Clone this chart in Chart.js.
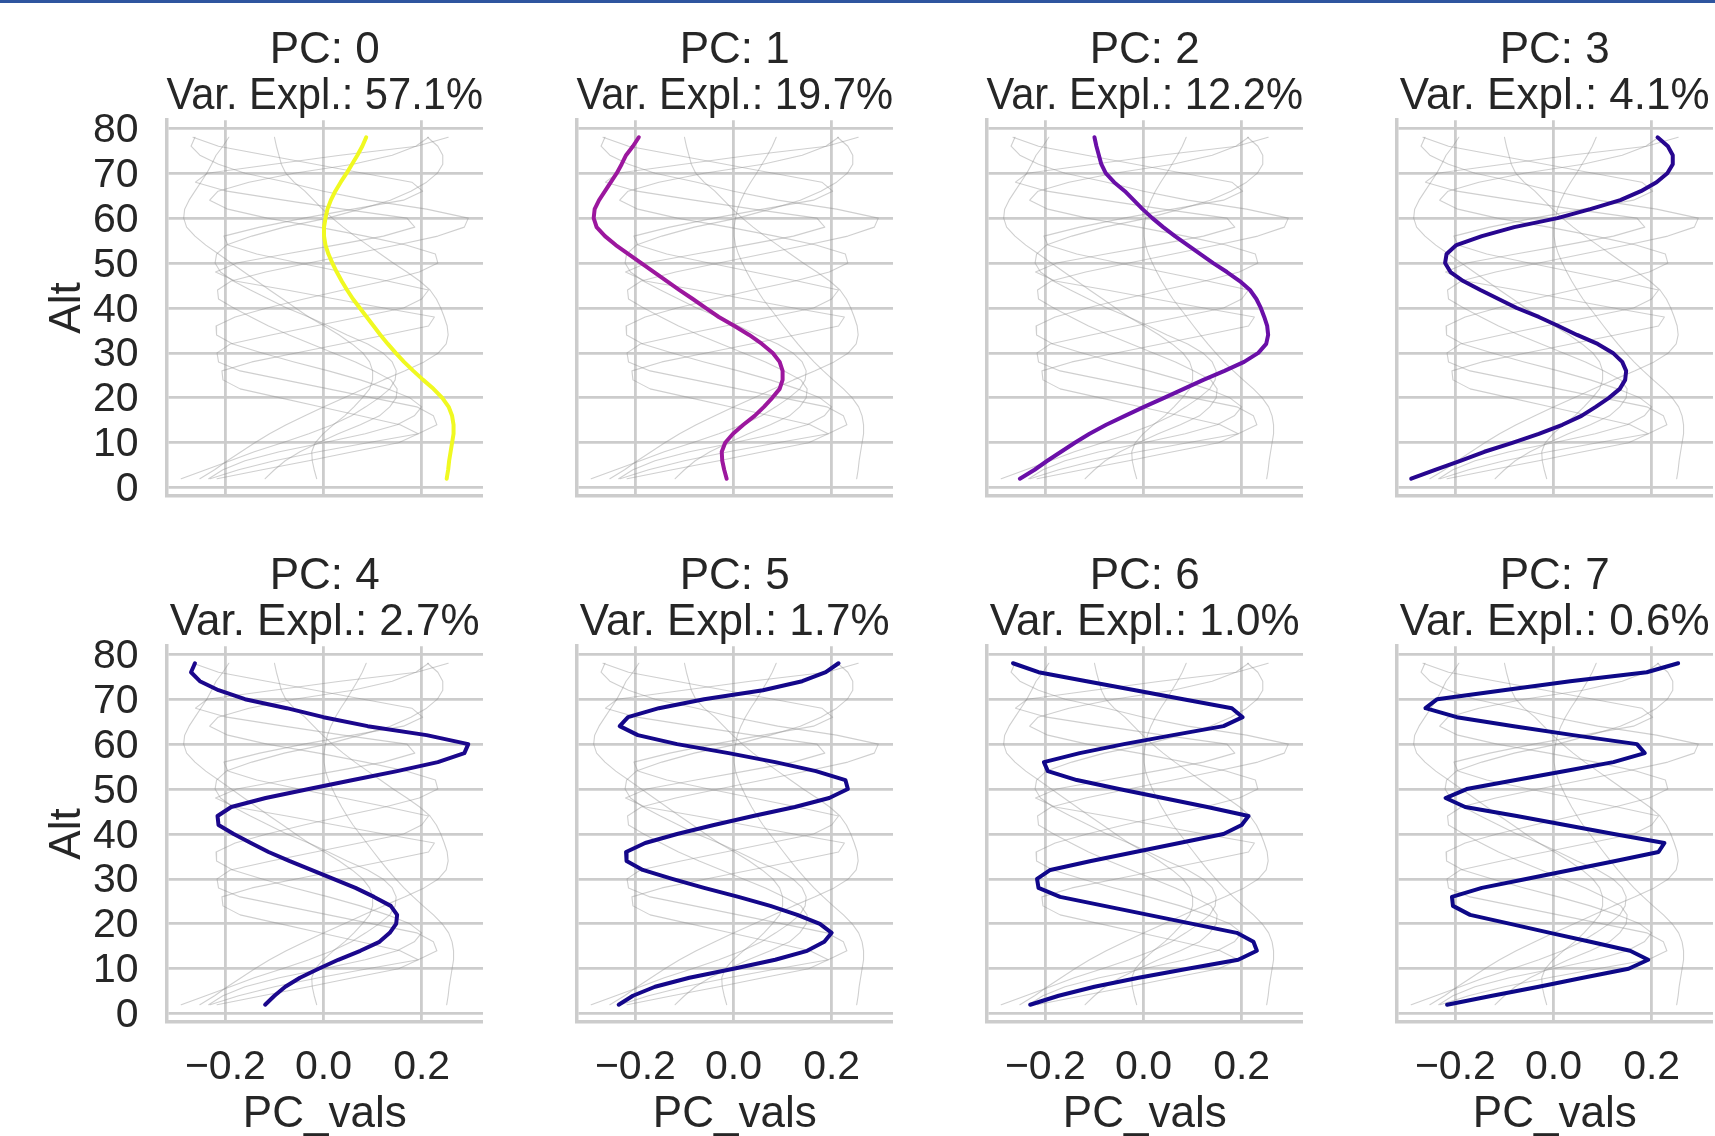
<!DOCTYPE html>
<html>
<head>
<meta charset="utf-8">
<title>PC profiles</title>
<script src="https://cdn.jsdelivr.net/npm/chart.js@4.4.1/dist/chart.umd.min.js"></script>
<style>
  html, body { margin: 0; padding: 0; background: #fff; }
  #frame { position: relative; width: 1715px; height: 1136px; overflow: hidden; background: #fff; }
  #topbar { position: absolute; left: 0; top: 0; width: 1715px; height: 3px; background: #2f559f; z-index: 5; }
  #frame canvas { position: absolute; }
</style>
</head>
<body>
<div id="frame"><div id="topbar"></div></div>
<script>
// altitude levels, top to bottom
const altitudes = [78, 76, 74, 72, 70, 68, 66, 64, 62, 60, 58, 56, 54, 52, 50, 48, 46, 44, 42, 40,
                   38, 36, 34, 32, 30, 28, 26, 24, 22, 20, 18, 16, 14, 12, 10, 8, 6, 4, 2]

const pcLabels = ['PC: 0', 'PC: 1', 'PC: 2', 'PC: 3', 'PC: 4', 'PC: 5', 'PC: 6', 'PC: 7']
const varExplained = ['57.1%', '19.7%', '12.2%', '4.1%', '2.7%', '1.7%', '1.0%', '0.6%']

const pc0 = [0.087, 0.079, 0.069, 0.058, 0.047, 0.035, 0.024, 0.015, 0.008, 0.004,
             0.001, 0.001, 0.004, 0.010, 0.018, 0.027, 0.037, 0.048, 0.060, 0.074,
             0.088, 0.102, 0.116, 0.131, 0.147, 0.164, 0.183, 0.203, 0.224, 0.242,
             0.255, 0.262, 0.265, 0.265, 0.262, 0.259, 0.256, 0.254, 0.251]
const pc1 = [-0.193, -0.205, -0.219, -0.228, -0.238, -0.250, -0.262, -0.274, -0.283, -0.285,
             -0.279, -0.262, -0.240, -0.214, -0.188, -0.162, -0.136, -0.110, -0.083, -0.057,
             -0.030, 0.002, 0.032, 0.058, 0.080, 0.094, 0.100, 0.100, 0.094, 0.079,
             0.062, 0.043, 0.020, -0.001, -0.017, -0.024, -0.023, -0.019, -0.014]
const pc2 = [-0.100, -0.096, -0.091, -0.086, -0.077, -0.060, -0.038, -0.020, -0.002, 0.018,
             0.040, 0.064, 0.090, 0.116, 0.142, 0.170, 0.196, 0.217, 0.230, 0.239,
             0.246, 0.252, 0.254, 0.250, 0.234, 0.205, 0.165, 0.122, 0.082, 0.042,
             0.001, -0.038, -0.076, -0.110, -0.140, -0.168, -0.196, -0.222, -0.252]
const pc3 = [0.212, 0.233, 0.243, 0.243, 0.232, 0.210, 0.178, 0.136, 0.075, 0.008,
             -0.080, -0.146, -0.198, -0.218, -0.221, -0.210, -0.184, -0.149, -0.112, -0.075,
             -0.030, 0.010, 0.048, 0.090, 0.121, 0.140, 0.148, 0.146, 0.135, 0.113,
             0.086, 0.057, 0.018, -0.030, -0.084, -0.141, -0.190, -0.240, -0.290]
const pc4 = [-0.262, -0.270, -0.252, -0.214, -0.160, -0.075, 0.000, 0.090, 0.210, 0.295,
             0.287, 0.233, 0.150, 0.060, -0.030, -0.118, -0.188, -0.216, -0.214, -0.183,
             -0.148, -0.112, -0.070, -0.025, 0.020, 0.065, 0.103, 0.137, 0.150, 0.148,
             0.135, 0.114, 0.075, 0.030, -0.010, -0.048, -0.078, -0.100, -0.119]
const pc5 = [0.214, 0.188, 0.140, 0.060, -0.060, -0.152, -0.215, -0.232, -0.195, -0.115,
             -0.010, 0.085, 0.168, 0.228, 0.233, 0.195, 0.125, 0.040, -0.040, -0.115,
             -0.180, -0.219, -0.218, -0.185, -0.125, -0.060, 0.010, 0.075, 0.130, 0.176,
             0.200, 0.185, 0.150, 0.085, 0.000, -0.090, -0.160, -0.205, -0.234]
const pc6 = [-0.266, -0.214, -0.116, -0.017, 0.081, 0.180, 0.202, 0.163, 0.060, -0.040,
             -0.130, -0.203, -0.195, -0.136, -0.050, 0.040, 0.130, 0.214, 0.200, 0.163,
             0.073, -0.017, -0.107, -0.190, -0.217, -0.214, -0.170, -0.080, 0.010, 0.100,
             0.190, 0.224, 0.231, 0.193, 0.090, -0.010, -0.100, -0.173, -0.231]
const pc7 = [0.254, 0.190, 0.034, -0.102, -0.237, -0.261, -0.197, -0.081, 0.040, 0.170,
             0.186, 0.122, 0.024, -0.077, -0.177, -0.220, -0.180, -0.075, 0.024, 0.123,
             0.226, 0.214, 0.126, 0.035, -0.056, -0.146, -0.207, -0.205, -0.170, -0.088,
             -0.007, 0.075, 0.156, 0.193, 0.153, 0.060, -0.030, -0.125, -0.217]

const pcSeries = [pc0, pc1, pc2, pc3, pc4, pc5, pc6, pc7]
const lineColors = ['#f0f921', '#9c179e', '#6a0fa8', '#27068f', '#1b078c', '#14078a', '#10078a', '#0d0887']

const xTicks = [-0.2, 0, 0.2]
const yTicks = [0, 10, 20, 30, 40, 50, 60, 70, 80]

const textColor = '#262626'
const gridColor = '#cccccc'
const bgLineColor = 'rgba(140, 140, 140, 0.42)'

Chart.defaults.font.family = "'Liberation Sans', Arial, sans-serif"
Chart.defaults.color = textColor

const frame = document.getElementById('frame')

function toPoints(vals) {
  return vals.map(function (v, k) { return { x: v, y: altitudes[k] } })
}

function makePanel(pc) {
  const col = pc % 4
  const row = Math.floor(pc / 4)
  const bottomRow = row === 1
  const firstCol = col === 0

  const canvas = document.createElement('canvas')
  canvas.width = 483
  canvas.height = bottomRow ? 620 : 526
  canvas.style.left = (410 * col) + 'px'
  canvas.style.top = (526 * row) + 'px'
  frame.appendChild(canvas)

  // highlighted profile first so it is drawn on top
  const datasets = [{
    data: toPoints(pcSeries[pc]),
    borderColor: lineColors[pc],
    borderWidth: 4
  }]
  pcSeries.forEach(function (vals) {
    datasets.push({
      data: toPoints(vals),
      borderColor: bgLineColor,
      borderWidth: 1.1
    })
  })

  new Chart(canvas, {
    type: 'line',
    data: { datasets: datasets },
    options: {
      responsive: false,
      animation: false,
      devicePixelRatio: 1,
      layout: { padding: 0, autoPadding: false },
      elements: {
        point: { radius: 0, hoverRadius: 0 },
        line: { tension: 0, fill: false, borderJoinStyle: 'round', borderCapStyle: 'round' }
      },
      plugins: {
        legend: { display: false },
        tooltip: { enabled: false },
        title: {
          display: true,
          fullSize: false,
          text: [pcLabels[pc], 'Var. Expl.: ' + varExplained[pc]],
          color: textColor,
          font: { size: 44, weight: 'normal', lineHeight: 1.052 },
          padding: { top: 27.6, bottom: 0 }
        }
      },
      scales: {
        x: {
          type: 'linear',
          position: 'bottom',
          min: -0.32,
          max: 0.325,
          afterBuildTicks: function (scale) {
            scale.ticks = xTicks.map(function (v) { return { value: v } })
          },
          afterFit: function (scale) {
            scale.height = bottomRow ? 124.2 : 30.2
            scale.paddingLeft = 0
            scale.paddingRight = 0
          },
          grid: { color: gridColor, lineWidth: 2.8, drawTicks: false },
          border: { display: true, color: gridColor, width: 3.5 },
          ticks: {
            display: bottomRow,
            padding: 21,
            maxRotation: 0,
            autoSkip: false,
            color: textColor,
            font: { size: 41, lineHeight: 1.2 },
            callback: function (v) {
              return (v < 0 ? '\u2212' : '') + Math.abs(v).toFixed(1)
            }
          },
          title: {
            display: bottomRow,
            text: 'PC_vals',
            color: textColor,
            font: { size: 44, lineHeight: 1.2 },
            padding: { top: 0, bottom: 4.5 }
          }
        },
        y: {
          type: 'linear',
          position: 'left',
          min: -1.8,
          max: 81.8,
          afterBuildTicks: function (scale) {
            scale.ticks = yTicks.map(function (v) { return { value: v } })
          },
          afterFit: function (scale) {
            scale.width = 166.5
            scale.paddingTop = 0
            scale.paddingBottom = 0
          },
          grid: { color: gridColor, lineWidth: 2.8, drawTicks: false },
          border: { display: true, color: gridColor, width: 3.5 },
          ticks: {
            display: firstCol,
            padding: 28,
            autoSkip: false,
            color: textColor,
            // empty first line nudges the digits down so they sit centred on the grid line
            font: { size: 41, lineHeight: 0.11 },
            callback: function (v) { return ['', String(v)] }
          },
          title: {
            display: firstCol,
            text: 'Alt',
            color: textColor,
            font: { size: 44, lineHeight: 1.2 },
            padding: { top: 41.5, bottom: 0 }
          }
        }
      }
    }
  })
}

for (let i = 0; i < pcSeries.length; i++) {
  makePanel(i)
}
</script>
</body>
</html>
